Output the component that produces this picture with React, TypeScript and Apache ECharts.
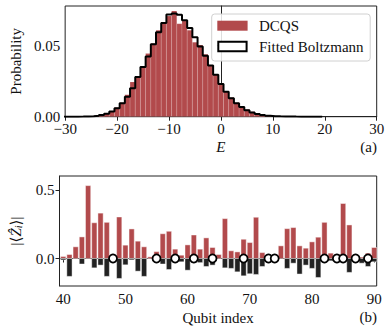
import React, { useEffect, useRef } from "react";
import * as echarts from "echarts";

// ---- Panel (a): energy histogram ----
const binCenters = [
  -30, -29, -28, -27, -26, -25, -24, -23, -22, -21, -20, -19, -18, -17, -16, -15, -14, -13, -12, -11,
  -10, -9, -8, -7, -6, -5, -4, -3, -2, -1, 0, 1, 2, 3, 4, 5, 6, 7, 8, 9,
  10, 11, 12, 13, 14, 15, 16, 17, 18, 19,
];
const dcqsProb = [
  0, 0, 0, 0.0001, 0.0002, 0.0003, 0.0006, 0.0011, 0.0022, 0.0038, 0.0064, 0.0098, 0.0155, 0.0245, 0.0285, 0.0355, 0.0445, 0.0515, 0.061, 0.0665,
  0.071, 0.0745, 0.0655, 0.0675, 0.061, 0.0525, 0.0505, 0.044, 0.0365, 0.03, 0.0235, 0.018, 0.0135, 0.0098, 0.007, 0.005, 0.0034, 0.0021, 0.0013, 0.0008,
  0.0004, 0.0002, 0.0001, 0, 0, 0, 0, 0, 0, 0,
];
const fittedProb = [
  0.00002, 0.00003, 0.00005, 0.0001, 0.0002, 0.0004, 0.0007, 0.0012, 0.002, 0.0036, 0.006, 0.0095, 0.014, 0.02, 0.028, 0.035, 0.0425, 0.051, 0.0595, 0.066,
  0.072, 0.0728, 0.0718, 0.068, 0.0625, 0.056, 0.0495, 0.043, 0.036, 0.0295, 0.023, 0.0175, 0.013, 0.0094, 0.0068, 0.0046, 0.003, 0.0019, 0.0012, 0.0007,
  0.0004, 0.00025, 0.00015, 0.0001, 0.00006, 0.00004, 0.00002, 0.00001, 0.00001, 0.00001,
];
const energyTicks = [-30, -20, -10, 0, 10, 20, 30];
const probTicks = [0, 0.05];

// ---- Panel (b): qubit expectation values ----
const qubits = [
  40, 41, 42, 43, 44, 45, 46, 47, 48, 49, 50, 51, 52, 53, 54, 55, 56, 57, 58, 59,
  60, 61, 62, 63, 64, 65, 66, 67, 68, 69, 70, 71, 72, 73, 74, 75, 76, 77, 78, 79,
  80, 81, 82, 83, 84, 85, 86, 87, 88, 89, 90,
];
const redValues = [
  0.014, 0.029, 0.085, 0.157, 0.53, 0.26, 0.33, 0.263, 0, 0.302, 0.097, 0.215, 0.126, 0.085, 0.012, 0.05, 0.18, 0.198, 0.068, 0.024,
  0.099, 0.171, 0.068, 0.15, 0.08, 0.029, 0.29, 0.056, 0.048, 0.14, 0.116, 0.3, 0.043, 0, 0, 0.092, 0.217, 0.225, 0.092, 0.075,
  0.121, 0.155, 0.263, 0.039, 0.029, 0.4, 0.244, 0, 0.01, 0.039, 0.08,
];
const blackValues = [
  -0.01, -0.13, 0, -0.04, 0, -0.068, -0.048, -0.13, 0, -0.145, -0.046, -0.01, -0.092, -0.13, 0, 0, -0.04, -0.08, -0.02, -0.024,
  -0.085, -0.03, -0.03, -0.058, -0.048, 0, -0.068, -0.072, -0.097, -0.126, -0.111, -0.116, -0.058, 0, 0, 0, -0.072, -0.034, -0.113, -0.048,
  -0.072, -0.138, -0.01, -0.017, 0, 0, -0.101, -0.024, -0.034, -0.058, -0.024,
];
const circleQubits = [48, 55, 58, 61, 64, 69, 73, 74, 82, 84, 85, 87, 89];
const qubitTicks = [40, 50, 60, 70, 80, 90];
const zTicks = [0, 0.5];

const RED = "#b24a4c";
const DARK = "#222222";
const FONT = "Liberation Serif, DejaVu Serif, serif";

const fmtMinus = (v: number, d: number) => {
  const s = Math.abs(v).toFixed(d);
  return v < 0 ? "\u2212" + s : s;
};

function barRenderer(halfWidth: number, fill: string, stroke: string) {
  return (params: any, api: any) => {
    const c = api.value(0);
    const v = api.value(1);
    if (!v) return null;
    const a = api.coord([c - halfWidth, v]);
    const b = api.coord([c + halfWidth, 0]);
    const y = Math.min(a[1], b[1]);
    const h = Math.abs(b[1] - a[1]);
    return {
      type: "rect",
      shape: { x: a[0], y, width: b[0] - a[0], height: h },
      style: { fill, stroke, lineWidth: 0.8 },
    };
  };
}

export default function App() {
  const ref = useRef<HTMLDivElement>(null);
  useEffect(() => {
    if (!ref.current) return;
    const chart = echarts.init(ref.current, null, { renderer: "svg" });

    const stepData: number[][] = [];
    stepData.push([binCenters[0] - 0.5, 0]);
    binCenters.forEach((c, i) => stepData.push([c - 0.5, fittedProb[i]]));
    const lastC = binCenters[binCenters.length - 1];
    stepData.push([lastC + 0.5, fittedProb[fittedProb.length - 1]]);
    stepData.push([lastC + 0.5, 0]);

    const axisCommon = {
      axisLine: { show: true, lineStyle: { color: DARK, width: 1 } },
      axisTick: { show: true, inside: false, length: 4, lineStyle: { color: DARK, width: 1 } },
      splitLine: { show: false },
    };
    const labelStyle = { color: "#111", fontFamily: FONT, fontSize: 15 };

    const option: any = {
      animation: false,
      backgroundColor: "#fff",
      textStyle: { fontFamily: FONT },
      grid: [
        { left: 56.7, top: 6, width: 320, height: 110.7, show: true, borderColor: DARK, borderWidth: 1, backgroundColor: "transparent" },
        { left: 56.7, top: 176, width: 320, height: 110, show: true, borderColor: DARK, borderWidth: 1, backgroundColor: "transparent" },
      ],
      xAxis: [
        {
          gridIndex: 0, type: "value", min: -30, max: 30, interval: 10,
          ...axisCommon,
          axisLabel: { ...labelStyle, margin: 5, formatter: (v: number) => fmtMinus(v, 0), customValues: energyTicks },
          axisTick: { ...axisCommon.axisTick, customValues: energyTicks },
          name: "E", nameLocation: "middle", nameGap: 23,
          nameTextStyle: { ...labelStyle, fontStyle: "italic" },
        },
        {
          gridIndex: 1, type: "value", min: 39.4, max: 90.4,
          ...axisCommon,
          axisLabel: { ...labelStyle, margin: 5, formatter: (v: number) => String(v), customValues: qubitTicks },
          axisTick: { ...axisCommon.axisTick, customValues: qubitTicks },
          name: "Qubit index", nameLocation: "middle", nameGap: 24,
          nameTextStyle: { ...labelStyle },
        },
      ],
      yAxis: [
        {
          gridIndex: 0, type: "value", min: 0, max: 0.078,
          ...axisCommon,
          axisLabel: { ...labelStyle, margin: 5, formatter: (v: number) => v.toFixed(2), customValues: probTicks },
          axisTick: { ...axisCommon.axisTick, customValues: probTicks },
          name: "Probability", nameLocation: "middle", nameGap: 40, nameRotate: 90,
          nameTextStyle: { ...labelStyle },
        },
        {
          gridIndex: 1, type: "value", min: -0.2, max: 0.6,
          ...axisCommon,
          axisLabel: { ...labelStyle, margin: 5, formatter: (v: number) => fmtMinus(v, 1), customValues: zTicks },
          axisTick: { ...axisCommon.axisTick, customValues: zTicks },
          name: "|\u27E8{z|\u1E90}{sub|i}\u27E9|", nameLocation: "middle", nameGap: 36, nameRotate: 90,
          nameTextStyle: {
            ...labelStyle,
            rich: {
              z: { fontFamily: FONT, fontSize: 15, fontStyle: "italic", color: "#111" },
              sub: { fontFamily: FONT, fontSize: 10, fontStyle: "italic", color: "#111", verticalAlign: "bottom", padding: [6, 0, 0, 0] },
            },
          },
        },
      ],
      series: [
        {
          name: "DCQS", type: "custom", xAxisIndex: 0, yAxisIndex: 0, clip: true,
          encode: { x: 0, y: 1 },
          itemStyle: { color: RED },
          data: binCenters.map((c, i) => [c, dcqsProb[i]]),
          renderItem: barRenderer(0.5, RED, "rgba(255,255,255,0.18)"),
          z: 2,
        },
        {
          name: "Fitted Boltzmann", type: "line", xAxisIndex: 0, yAxisIndex: 0,
          step: "end", symbol: "none", clip: true,
          lineStyle: { color: "#000", width: 2 },
          data: stepData,
          z: 3,
        },
        {
          name: "positive", type: "custom", xAxisIndex: 1, yAxisIndex: 1, clip: true,
          encode: { x: 0, y: 1 },
          data: qubits.map((q, i) => [q, redValues[i]]),
          renderItem: barRenderer(0.42, RED, "rgba(255,255,255,0.55)"),
          z: 2,
        },
        {
          name: "negative", type: "custom", xAxisIndex: 1, yAxisIndex: 1, clip: true,
          encode: { x: 0, y: 1 },
          data: qubits.map((q, i) => [q, blackValues[i]]),
          renderItem: barRenderer(0.42, DARK, "rgba(255,255,255,0.55)"),
          z: 2,
        },
        {
          name: "markers", type: "scatter", xAxisIndex: 1, yAxisIndex: 1,
          symbol: "circle", symbolSize: 8,
          itemStyle: { color: "#fff", borderColor: "#000", borderWidth: 1.8, opacity: 1 },
          data: circleQubits.map((q) => [q, 0]),
          z: 5,
        },
      ],
      graphic: [
        { type: "rect", z: 100, shape: { x: 211.7, y: 14, width: 158.5, height: 47, r: 3 }, style: { fill: "rgba(255,255,255,0.85)", stroke: "#d0d0d0", lineWidth: 1 } },
        { type: "rect", z: 101, shape: { x: 217.3, y: 20.7, width: 30.3, height: 10 }, style: { fill: RED } },
        { type: "rect", z: 101, shape: { x: 218.3, y: 41.7, width: 28.3, height: 9.5 }, style: { fill: "#fff", stroke: "#000", lineWidth: 2 } },
        { type: "text", z: 101, x: 259, y: 26, style: { text: "DCQS", fontFamily: FONT, fontSize: 15, fill: "#111", verticalAlign: "middle" } },
        { type: "text", z: 101, x: 259, y: 47, style: { text: "Fitted Boltzmann", fontFamily: FONT, fontSize: 15, fill: "#111", verticalAlign: "middle" } },
        { type: "text", z: 101, x: 377, y: 147, style: { text: "(a)", fontFamily: FONT, fontSize: 15, fill: "#111", align: "right", verticalAlign: "middle" } },
        { type: "text", z: 101, x: 377, y: 317, style: { text: "(b)", fontFamily: FONT, fontSize: 15, fill: "#111", align: "right", verticalAlign: "middle" } },
      ],
    };
    chart.setOption(option);
    return () => chart.dispose();
  }, []);
  return <div ref={ref} style={{ position: "fixed", left: 0, top: 0, width: 392, height: 331 }} />;
}
